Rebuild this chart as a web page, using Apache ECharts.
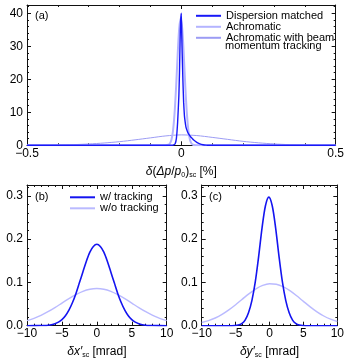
<!DOCTYPE html>
<html>
<head>
<meta charset="utf-8">
<script src="https://cdn.jsdelivr.net/npm/echarts@6/dist/echarts.min.js"></script>
<style>html,body{margin:0;padding:0;background:#fff;}#c{width:347px;height:361px;}</style>
</head>
<body>
<div id="c"></div>
<script>
// ---- Panel (a): delta(dp/p0)_sc [%] ----
const dmX = [-0.5, -0.03, -0.025, -0.02, -0.016, -0.012, -0.008, -0.006, -0.004, -0.002, 0, 0.0015, 0.003, 0.005, 0.0075, 0.01, 0.0125, 0.015, 0.02, 0.025, 0.03, 0.035, 0.04, 0.05, 0.06, 0.07, 0.08, 0.09, 0.5];
const dmY = [0, 0, 0.1, 0.5, 2.1, 7, 15, 22, 32, 38, 40, 33, 27, 20, 13, 9, 7, 5.5, 4.1, 3.2, 2.6, 2.1, 1.6, 0.9, 0.45, 0.18, 0.05, 0, 0];
const achX = [-0.5, -0.052, -0.042, -0.037, -0.032, -0.027, -0.022, -0.017, -0.012, -0.007, -0.002, 0.003, 0.008, 0.013, 0.018, 0.023, 0.028, 0.033, 0.038, 0.048, 0.5];
const achY = [0, 0, 0.15, 0.55, 1.7, 4.4, 9.6, 17.6, 27.2, 35.3, 38.5, 35.3, 27.2, 17.6, 9.6, 4.4, 1.7, 0.55, 0.15, 0, 0];
const trkX = [-0.5, -0.45, -0.4, -0.35, -0.3, -0.25, -0.2, -0.15, -0.1, -0.05, 0, 0.05, 0.1, 0.15, 0.2, 0.25, 0.3, 0.35, 0.4, 0.45, 0.5];
const trkY = [0, 0.02, 0.08, 0.2, 0.4, 0.7, 1.1, 1.65, 2.25, 2.85, 3.15, 2.95, 2.4, 1.8, 1.2, 0.75, 0.42, 0.2, 0.08, 0.02, 0];
// ---- Panel (b): delta x'_sc [mrad] ----
const bX = [-10, -8, -7.5, -7, -6.5, -6, -5.5, -5, -4.5, -4, -3.5, -3, -2.5, -2, -1.5, -1, -0.5, 0, 0.5, 1, 1.5, 2, 2.5, 3, 3.5, 4, 4.5, 5, 5.5, 6, 6.5, 7, 7.5, 8, 10];
const bWith = [0, 0.0003, 0.0006, 0.0012, 0.0024, 0.0046, 0.0083, 0.014, 0.023, 0.036, 0.053, 0.074, 0.099, 0.124, 0.149, 0.170, 0.183, 0.188, 0.183, 0.170, 0.149, 0.124, 0.099, 0.074, 0.053, 0.036, 0.023, 0.014, 0.0083, 0.0046, 0.0024, 0.0012, 0.0006, 0.0003, 0];
const bX2 = [-10, -9, -8, -7, -6, -5, -4, -3, -2, -1, 0, 1, 2, 3, 4, 5, 6, 7, 8, 9, 10];
const bWithout = [0.0116, 0.017, 0.0239, 0.0323, 0.0419, 0.0522, 0.0624, 0.0718, 0.0794, 0.0843, 0.086, 0.0843, 0.0794, 0.0718, 0.0624, 0.0522, 0.0419, 0.0323, 0.0239, 0.017, 0.0116];
// ---- Panel (c): delta y'_sc [mrad] ----
const cX = [-10, -6.1, -5.1, -4.6, -4.1, -3.6, -3.1, -2.6, -2.1, -1.6, -1.1, -0.6, -0.1, 0.4, 0.9, 1.4, 1.9, 2.4, 2.9, 3.4, 3.9, 4.4, 4.9, 5.9, 10];
const cWith = [0, 0, 0.0004, 0.0015, 0.005, 0.013, 0.03, 0.058, 0.101, 0.160, 0.226, 0.277, 0.297, 0.277, 0.226, 0.160, 0.101, 0.058, 0.03, 0.013, 0.005, 0.0015, 0.0004, 0, 0];
const cX2 = [-10, -9, -8, -7, -6, -5, -4, -3, -2, -1, 0, 1, 2, 3, 4, 5, 6, 7, 8, 9, 10];
const cWithout = [0.0075, 0.0118, 0.0178, 0.026, 0.0364, 0.0485, 0.0614, 0.0741, 0.0851, 0.093, 0.0968, 0.0958, 0.0903, 0.081, 0.0692, 0.0562, 0.0435, 0.032, 0.0224, 0.015, 0.0098];

const zip = (xs, ys) => xs.map((x, i) => [x, ys[i]]);
const FONT = "'Liberation Sans', Arial, Helvetica, sans-serif";
const AX = '#111';
const minus = v => (v < 0 ? '\u2212' : '') + Math.abs(v);

function xAx(grid, min, max, interval, labels, fmt, name, nameGap) {
  return {
    type: 'value', gridIndex: grid, min: min, max: max, interval: interval,
    position: labels ? 'bottom' : 'top',
    axisLine: { show: true, onZero: false, lineStyle: { color: AX, width: 1 } },
    axisTick: { show: true, inside: true, length: 4, lineStyle: { color: AX } },
    minorTick: { show: true, splitNumber: 5, length: 2, lineStyle: { color: AX } },
    splitLine: { show: false },
    axisLabel: { show: labels, margin: 2, fontSize: 12, fontFamily: FONT, color: '#000', formatter: fmt },
    name: labels ? name : '', nameLocation: 'middle', nameGap: nameGap,
    nameTextStyle: {
      fontSize: 12, fontFamily: FONT, color: '#000', lineHeight: 14,
      rich: {
        i: { fontStyle: 'italic', fontSize: 12, fontFamily: FONT, color: '#000', lineHeight: 14 },
        s: { fontSize: 7, fontFamily: FONT, color: '#000', verticalAlign: 'bottom', lineHeight: 9 }
      }
    }
  };
}
function yAx(grid, min, max, interval, labels, fmt) {
  return {
    type: 'value', gridIndex: grid, min: min, max: max, interval: interval,
    position: labels ? 'left' : 'right',
    axisLine: { show: true, onZero: false, lineStyle: { color: AX, width: 1 } },
    axisTick: { show: true, inside: true, length: 4, lineStyle: { color: AX } },
    minorTick: { show: true, splitNumber: 5, length: 2, lineStyle: { color: AX } },
    splitLine: { show: false },
    axisLabel: { show: labels, margin: 4, fontSize: 12, fontFamily: FONT, color: '#000', formatter: fmt, showMaxLabel: true }
  };
}
const fmtA = v => (Math.abs(v * 2 - Math.round(v * 2)) < 1e-9 ? minus(v) : '');
const fmtAy = v => (v % 10 === 0 ? String(v) : '');
const fmtB = v => (v % 5 === 0 ? minus(v) : '');
const fmtBy = v => (Math.abs(v * 10 - Math.round(v * 10)) < 1e-9 ? v.toFixed(1) : '');

const C_DM = '#1818f8', C_ACH = '#b4b4ff', C_TRK = '#9c9cf4';
const C_W = '#1414f0', C_WO = '#babaff';

const legendCommon = {
  orient: 'vertical', padding: 0, itemGap: 0, itemWidth: 25, itemHeight: 8,
  itemStyle: { opacity: 0, borderWidth: 0 }
};

const option = {
  backgroundColor: '#fff',
  animation: false,
  textStyle: { fontFamily: FONT },
  grid: [
    { left: 27, top: 5, width: 313, height: 140.3 },
    { left: 27, top: 185, width: 139.7, height: 140.7 },
    { left: 201.7, top: 185, width: 138.3, height: 140.7 }
  ],
  xAxis: [
    xAx(0, -0.5, 0.5, 0.5, true, fmtA, '{i|δ}({i|Δp}/{i|p}{s|0}){s|sc} [%]', 19),
    xAx(0, -0.5, 0.5, 0.5, false, fmtA),
    xAx(1, -10, 10, 5, true, fmtB, '{i|δx′}{s|sc} [mrad]', 19),
    xAx(1, -10, 10, 5, false, fmtB),
    xAx(2, -10, 10, 5, true, fmtB, '{i|δy′}{s|sc} [mrad]', 19),
    xAx(2, -10, 10, 5, false, fmtB)
  ],
  yAxis: [
    yAx(0, 0, 42.5, 10, true, fmtAy),
    yAx(0, 0, 42.5, 10, false, fmtAy),
    yAx(1, 0, 0.325, 0.1, true, fmtBy),
    yAx(1, 0, 0.325, 0.1, false, fmtBy),
    yAx(2, 0, 0.325, 0.1, true, fmtBy),
    yAx(2, 0, 0.325, 0.1, false, fmtBy)
  ],
  legend: [
    Object.assign({}, legendCommon, {
      left: 195, top: 10.3,
      data: ['Dispersion matched', 'Achromatic', 'Achromatic with beam momentum tracking'],
      formatter: n => (n === 'Achromatic with beam momentum tracking' ? 'Achromatic with beam' : n),
      textStyle: { fontSize: 11, fontFamily: FONT, color: '#000', lineHeight: 10 }
    }),
    Object.assign({}, legendCommon, {
      left: 69, top: 191.8,
      data: ['w/ tracking', 'w/o tracking'],
      textStyle: { fontSize: 11, fontFamily: FONT, color: '#000', lineHeight: 9 }
    })
  ],
  graphic: [
    { type: 'text', left: 225, top: 40, style: { text: 'momentum tracking', font: "11px " + FONT, fill: '#000' } },
    { type: 'text', left: 35, top: 10, style: { text: '(a)', font: "11px " + FONT, fill: '#000' } },
    { type: 'text', left: 35, top: 191, style: { text: '(b)', font: "11px " + FONT, fill: '#000' } },
    { type: 'text', left: 209, top: 191, style: { text: '(c)', font: "11px " + FONT, fill: '#000' } }
  ],
  series: [
    { name: 'Achromatic with beam momentum tracking', type: 'line', xAxisIndex: 0, yAxisIndex: 0, data: zip(trkX, trkY), showSymbol: false, symbol: 'none', smooth: 0.3, lineStyle: { color: C_TRK, width: 1 }, itemStyle: { color: C_TRK }, z: 2 },
    { name: 'Achromatic', type: 'line', xAxisIndex: 0, yAxisIndex: 0, data: zip(achX, achY), showSymbol: false, symbol: 'none', smooth: 0.3, lineStyle: { color: C_ACH, width: 2 }, itemStyle: { color: C_ACH }, z: 3 },
    { name: 'Dispersion matched', type: 'line', xAxisIndex: 0, yAxisIndex: 0, data: zip(dmX, dmY), showSymbol: false, symbol: 'none', smooth: 0.15, lineStyle: { color: C_DM, width: 1.4 }, itemStyle: { color: C_DM }, z: 4 },
    { name: 'w/o tracking', type: 'line', xAxisIndex: 2, yAxisIndex: 2, data: zip(bX2, bWithout), showSymbol: false, symbol: 'none', smooth: 0.3, lineStyle: { color: C_WO, width: 1.4 }, itemStyle: { color: C_WO } },
    { name: 'w/ tracking', type: 'line', xAxisIndex: 2, yAxisIndex: 2, data: zip(bX, bWith), showSymbol: false, symbol: 'none', smooth: 0.3, lineStyle: { color: C_W, width: 1.6 }, itemStyle: { color: C_W } },
    { name: 'w/o tracking', type: 'line', xAxisIndex: 4, yAxisIndex: 4, data: zip(cX2, cWithout), showSymbol: false, symbol: 'none', smooth: 0.3, lineStyle: { color: C_WO, width: 1.4 }, itemStyle: { color: C_WO } },
    { name: 'w/ tracking', type: 'line', xAxisIndex: 4, yAxisIndex: 4, data: zip(cX, cWith), showSymbol: false, symbol: 'none', smooth: 0.3, lineStyle: { color: C_W, width: 1.6 }, itemStyle: { color: C_W } }
  ]
};
const chart = echarts.init(document.getElementById('c'), null, { renderer: 'canvas' });
chart.setOption(option);
</script>
</body>
</html>
